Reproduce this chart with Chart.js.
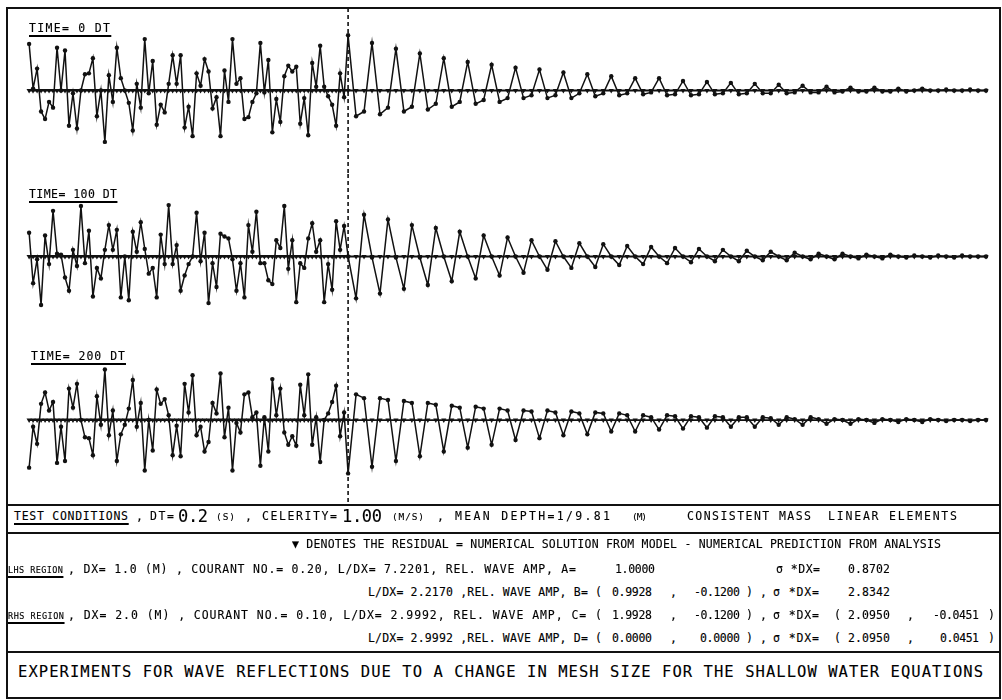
<!DOCTYPE html>
<html>
<head>
<meta charset="utf-8">
<title>Wave reflections due to a change in mesh size</title>
<script src="https://cdn.jsdelivr.net/npm/chart.js@4.4.1/dist/chart.umd.min.js"></script>
<style>
  body { margin: 0; background: #fff; }
  #page { position: relative; width: 1002px; height: 700px; overflow: hidden; background: #fff;
          font-family: "DejaVu Sans Mono", "Liberation Mono", monospace; color: #000; }
  canvas { position: absolute; left: 0; }
  .rule { position: absolute; background: #111; }
  .t { position: absolute; white-space: pre; line-height: 1; -webkit-text-stroke: 0.12px #000; }
  .u { text-decoration: underline; text-decoration-thickness: 1.5px; text-underline-offset: 3px; }
</style>
</head>
<body>
<div id="page"></div>
<script>
// mesh nodes (m): LHS region DX = 1.0, RHS region DX = 2.0, interface at 80 m
const lhsX = [0,1,2,3,4,5,6,7,8,9,10,11,12,13,14,15,16,17,18,19,20,21,22,23,24,25,26,27,28,29,
  30,31,32,33,34,35,36,37,38,39,40,41,42,43,44,45,46,47,48,49,50,51,52,53,54,55,56,57,58,59,
  60,61,62,63,64,65,66,67,68,69,70,71,72,73,74,75,76,77,78,79,80];
const rhsX = [82,84,86,88,90,92,94,96,98,100,102,104,106,108,110,112,114,116,118,120,
  122,124,126,128,130,132,134,136,138,140,142,144,146,148,150,152,154,156,158,160,
  162,164,166,168,170,172,174,176,178,180,182,184,186,188,190,192,194,196,198,200,
  202,204,206,208,210,212,214,216,218,220,222,224,226,228,230,232,234,236,238,240];
const interfaceX = 80;

// numerical solution at each node (plot units, + is up)
const time0Lhs = [49,2,23,-22,-30,-12,-18,45,0,42, -37,-3,-40,0,17,18,34,-27,0,-54,
  16,-12,45,13,0,-13,-42,7,-18,54, -3,31,-36,-15,-23,7,37,7,37,-39,
  -17,-48,18,5,33,20,-19,-7,-48,21, -12,54,7,13,-30,-28,-12,-3,50,-2,
  32,-44,-9,-33,15,26,20,25,-35,-8, -47,29,4,47,4,-6,-15,-37,18,-7, 58];
const time0Rhs = [-27,-22,50,-25,-18,44,-22,-17,39,-20, -14,34,-17,-12,30,-14,-10,27,-12,-8,
  24,-8,-5,22,-8,-5,19,-8,-3,17, -6,-3,15,-5,-3,13,-4,-2,13,-5,
  -4,10,-5,-4,9,-4,-3,8,-4,-3, 7,-3,-3,6,-3,-2,5,-2,-2,4,
  -2,-1,3,-1,-1,3,-1,-1,2,-1, 0,2,0,0,1,0,0,1,0,0];

const time100Lhs = [25,-28,-3,-51,22,-8,48,3,2,-22, -36,7,-10,53,-7,27,-42,-12,-23,7,
  33,7,28,-43,0,-46,26,5,36,8, -18,-12,-43,23,-8,54,-8,12,-36,-20,
  -8,0,46,-5,25,-49,-7,-32,24,21, 19,-3,-36,-7,-43,33,5,47,-7,-7,
  -25,-29,17,9,53,-13,17,-48,-7,-12, 19,35,5,17,-48,-8,-35,37,7,32, 0];
const time100Rhs = [-44,44,-1,-39,39,-1,-34,33,-1,-30, 30,0,-26,26,0,-23,22,0,-20,20,
  0,-17,17,0,-14,16,0,-12,14,0, -11,13,0,-9,11,0,-8,10,0,-7,
  9,0,-6,8,0,-5,7,0,-5,6, 0,-4,5,0,-4,4,0,-3,3,0,
  -3,3,0,-2,2,0,-2,2,0,-1, 1,0,-1,1,0,-1,1,0,0,0];

const time200Lhs = [-50,-7,-25,17,29,10,19,-45,-7,-43, 33,13,38,0,-18,-19,-37,25,-5,53,
  -16,10,-43,-15,-5,12,42,-7,18,-53, 0,-32,32,17,22,5,-37,-6,-38,38,
  8,47,-16,-7,-33,-23,18,7,49,-18, 13,-53,-3,-13,27,29,3,8,-48,3,
  -33,43,5,33,-13,-26,-17,-27,37,5, 48,-26,3,-44,0,7,19,36,-17,8, -56];
const time200Rhs = [27,23,-49,23,21,-43,20,18,-38,18, 16,-33,15,13,-29,14,12,-26,12,10,
  -21,10,9,-19,10,8,-16,9,7,-15, 8,7,-12,7,5,-12,5,3,-10,5,
  4,-9,4,3,-8,4,3,-7,3,3, -7,3,2,-5,3,1,-5,3,1,-4,
  1,0,-4,1,0,-3,1,0,-2,1, 0,-2,1,0,-1,0,0,-1,0,0];

// residual = model solution - analytical prediction (sits on the axis)
const residualLhs = [0,0,0,0,0,0,0,0,0,0, 0,0,0,0,0,0,0,0,0,0, 0,0,0,0,0,0,0,0,0,0,
  0,0,0,0,0,0,0,0,0,0, 0,0,0,0,0,0,0,0,0,0, 0,0,0,0,0,0,0,0,0,0,
  0,0,0,0,0,0,0,0,0,0, 0,0,0,0,0,0,0,0,0,0, 0];
const residualRhs = [0,0,0,0,0,0,0,0,0,0, 0,0,0,0,0,0,0,0,0,0, 0,0,0,0,0,0,0,0,0,0,
  0,0,0,0,0,0,0,0,0,0, 0,0,0,0,0,0,0,0,0,0, 0,0,0,0,0,0,0,0,0,0,
  0,0,0,0,0,0,0,0,0,0, 0,0,0,0,0,0,0,0,0,0];

const timeLabels = ["TIME= 0 DT", "TIME= 100 DT", "TIME= 200 DT"];

const ink = "#111";
const page = document.getElementById("page");

// where each strip sits on the page; zero is the distance from strip top to its axis
const strips = [
  {top: 8,   height: 165, zero: 82.5, lx: 29, ly: 28.5, lw: 81},
  {top: 174, height: 165, zero: 82.5, lx: 29, ly: 195,  lw: 88},
  {top: 337, height: 168, zero: 83,   lx: 31, ly: 356.5, lw: 94}
];
const series = [[time0Lhs, time0Rhs], [time100Lhs, time100Rhs], [time200Lhs, time200Rhs]];

function points(xs, ys) {
  return xs.map((x, i) => ({x: x, y: ys[i]}));
}

// dashed line marking the change in mesh size
const interfaceLine = {
  id: "interfaceLine",
  afterDatasetsDraw(chart) {
    const x = chart.scales.x.getPixelForValue(interfaceX);
    const ctx = chart.ctx;
    ctx.save();
    ctx.strokeStyle = ink;
    ctx.lineWidth = 1.6;
    ctx.setLineDash([4, 3]);
    ctx.beginPath();
    ctx.moveTo(x, 0);
    ctx.lineTo(x, chart.height);
    ctx.stroke();
    ctx.restore();
  }
};

strips.forEach((s, n) => {
  const canvas = document.createElement("canvas");
  canvas.width = 1002;
  canvas.height = s.height;
  canvas.style.top = s.top + "px";
  page.appendChild(canvas);

  new Chart(canvas.getContext("2d"), {
    type: "line",
    data: {
      datasets: [
        {
          label: "residual",
          data: points(lhsX.concat(rhsX), residualLhs.concat(residualRhs)),
          borderColor: ink,
          borderWidth: 1.8,
          pointStyle: "triangle",
          pointRotation: 180,
          pointRadius: 3,
          pointBackgroundColor: ink,
          pointBorderWidth: 0
        },
        {
          label: timeLabels[n],
          data: points(lhsX.concat(rhsX), series[n][0].concat(series[n][1])),
          borderColor: ink,
          borderWidth: 1.5,
          pointRadius: 2.2,
          pointBackgroundColor: ink,
          pointBorderWidth: 0
        }
      ]
    },
    options: {
      responsive: false,
      animation: false,
      events: [],
      layout: {padding: 0},
      plugins: {legend: {display: false}, tooltip: {enabled: false}},
      scales: {
        x: {type: "linear", min: -6.3, max: 243, display: false},
        y: {min: s.zero - s.height, max: s.zero, display: false}
      }
    },
    plugins: [interfaceLine]
  });
});

// frame and table rules: x, y, w, h
const rules = [
  [6, 7, 995, 2], [6, 7, 2, 692], [999, 7, 2, 692],
  [6, 504, 995, 2], [6, 532, 995, 2], [6, 651, 995, 2], [6, 697, 995, 2]
];
rules.forEach(r => {
  const d = document.createElement("div");
  d.className = "rule";
  d.style.left = r[0] + "px"; d.style.top = r[1] + "px";
  d.style.width = r[2] + "px"; d.style.height = r[3] + "px";
  page.appendChild(d);
});

// plotter lettering: text stretched to the width it has in the figure
function put(text, x, cy, w, size, cls) {
  const el = document.createElement("span");
  el.className = "t" + (cls ? " " + cls : "");
  el.textContent = text;
  el.style.fontSize = size + "px";
  el.style.left = x + "px";
  el.style.top = (cy - 0.48 * size) + "px";
  page.appendChild(el);
  if (w && text.length > 1) {
    const w0 = el.getBoundingClientRect().width;
    el.style.letterSpacing = ((w - w0) / (text.length - 1)) + "px";
  }
}

strips.forEach((s, n) => put(timeLabels[n], s.lx, s.ly, s.lw, 11.5, "u"));

const S = 11.5, P = 9.5;
const texts = [
  ["TEST CONDITIONS", 14, 517, 114, S, "u"],
  [",", 136, 517, 0, S],
  ["DT=", 150, 517, 24, S],
  ["0.2", 178, 516, 30, 17],
  ["(S)", 216, 517, 19, P],
  [",", 245, 517, 0, S],
  ["CELERITY=", 262, 517, 75, S],
  ["1.00", 342, 516, 40, 17],
  ["(M/S)", 392, 517, 32, P],
  [",", 437, 517, 0, S],
  ["MEAN DEPTH=1/9.81", 455, 517, 155, S],
  ["(M)", 632, 517, 15, P],
  ["CONSISTENT MASS", 687, 517, 124, S],
  ["LINEAR ELEMENTS", 828, 517, 129, S],

  ["\u25BC DENOTES THE RESIDUAL = NUMERICAL SOLUTION FROM MODEL - NUMERICAL PREDICTION FROM ANALYSIS", 292, 545, 649, S],

  ["LHS REGION", 8, 570, 55, 8.5, "u"],
  [", DX= 1.0 (M) , COURANT NO.= 0.20, L/DX= 7.2201, REL. WAVE AMP, A=", 68, 570, 508, S],
  ["1.0000", 615, 570, 40, S],
  ["\u03C3 *DX=", 776, 570, 44, S],
  ["0.8702", 848, 570, 42, S],

  ["L/DX= 2.2170 ,REL. WAVE AMP, B= (", 368, 593, 234, S],
  ["0.9928", 612, 593, 40, S],
  [",", 670, 593, 0, S],
  ["-0.1200", 694, 593, 46, S],
  [")", 746, 593, 0, S],
  [",", 760, 593, 0, S],
  ["\u03C3 *DX=", 773, 593, 46, S],
  ["2.8342", 848, 593, 42, S],

  ["RHS REGION", 8, 616, 56, 8.5, "u"],
  [", DX= 2.0 (M) , COURANT NO.= 0.10, L/DX= 2.9992, REL. WAVE AMP, C= (", 68, 616, 534, S],
  ["1.9928", 612, 616, 40, S],
  [",", 670, 616, 0, S],
  ["-0.1200", 694, 616, 46, S],
  [")", 746, 616, 0, S],
  [",", 760, 616, 0, S],
  ["\u03C3 *DX=", 773, 616, 46, S],
  ["(", 834, 616, 0, S],
  ["2.0950", 848, 616, 42, S],
  [",", 907, 616, 0, S],
  ["-0.0451", 933, 616, 46, S],
  [")", 988, 616, 0, S],

  ["L/DX= 2.9992 ,REL. WAVE AMP, D= (", 368, 639, 234, S],
  ["0.0000", 612, 639, 40, S],
  [",", 670, 639, 0, S],
  ["0.0000", 700, 639, 40, S],
  [")", 746, 639, 0, S],
  [",", 760, 639, 0, S],
  ["\u03C3 *DX=", 773, 639, 46, S],
  ["(", 834, 639, 0, S],
  ["2.0950", 848, 639, 42, S],
  [",", 907, 639, 0, S],
  ["0.0451", 940, 639, 39, S],
  [")", 988, 639, 0, S],

  ["EXPERIMENTS FOR WAVE REFLECTIONS DUE TO A CHANGE IN MESH SIZE FOR THE SHALLOW WATER EQUATIONS", 18, 672, 965, 15.5]
];
texts.forEach(t => put(t[0], t[1], t[2], t[3], t[4], t[5]));
</script>
</body>
</html>
